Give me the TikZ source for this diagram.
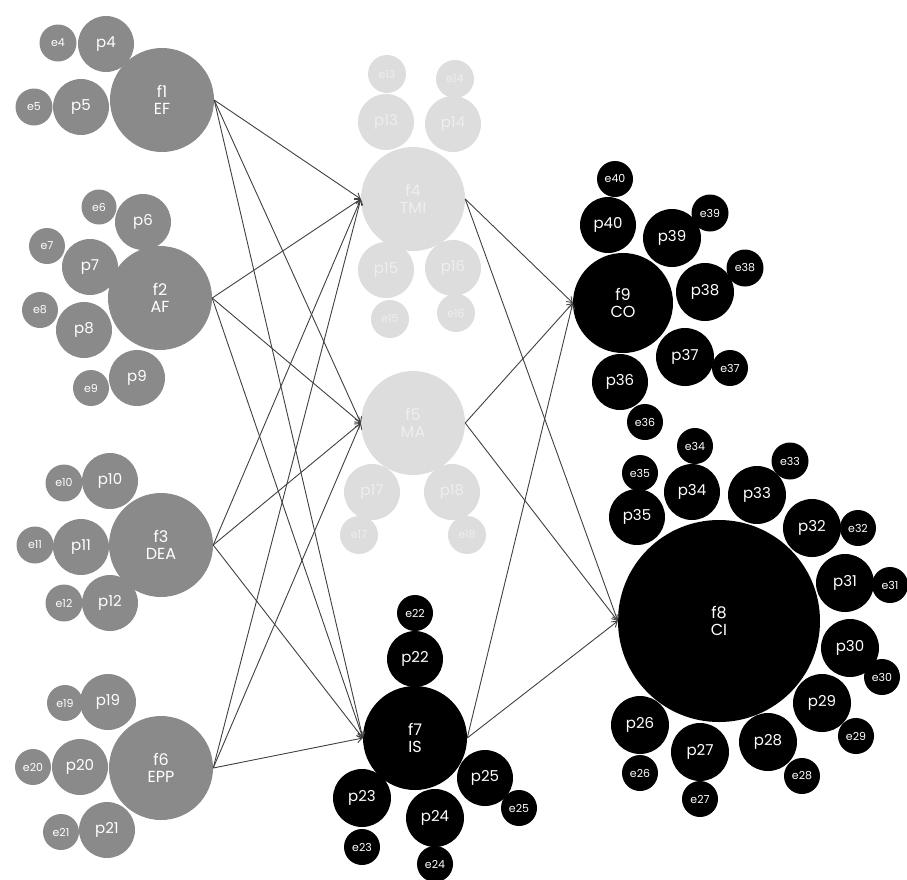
\documentclass[tikz,border=0pt]{standalone}
\usepackage{fontspec}
\setmainfont{Poppins}
\usetikzlibrary{arrows.meta}
\definecolor{gcol}{HTML}{8A8A8A}
\definecolor{lcol}{HTML}{DDDDDD}
\definecolor{ltxt}{HTML}{EEEEEE}
\definecolor{lncol}{HTML}{404040}
\tikzset{
  bub/.style={circle, inner sep=0pt, minimum size=#1, text=white, align=center},
  bigf/.style={bub=#1, font=\fontsize{16}{17}\selectfont},
  pn/.style={bub=#1, font=\fontsize{15}{16}\selectfont},
  en/.style={bub=#1, font=\fontsize{11}{12}\selectfont},
  gray/.style={fill=gcol},
  light/.style={fill=lcol, text=ltxt},
  blk/.style={fill=black},
  link/.style={draw=lncol, line width=0.9pt, -{Straight Barb[length=5pt,width=7pt]}}
}
\begin{document}
\begin{tikzpicture}[x=1pt,y=-1pt]
\useasboundingbox (0,0) rectangle (907,879);
% ---- f1 EF
\node[en=37,gray] (e4) at (58,43) {e4};
\node[pn=56,gray] (p4) at (106,44) {p4};
\node[en=37,gray] (e5) at (34,107) {e5};
\node[pn=56,gray] (p5) at (81,107) {p5};
\node[bigf=104,gray] (f1) at (162,100) {f1\\EF};
% ---- f2 AF
\node[en=35,gray] (e6) at (99,207) {e6};
\node[pn=56,gray] (p6) at (143,222) {p6};
\node[en=36,gray] (e7) at (47,246) {e7};
\node[pn=56,gray] (p7) at (90,267) {p7};
\node[en=36,gray] (e8) at (40,310) {e8};
\node[pn=56,gray] (p8) at (84,330) {p8};
\node[bigf=104,gray] (f2) at (160,298) {f2\\AF};
\node[en=36,gray] (e9) at (91,388) {e9};
\node[pn=56,gray] (p9) at (137,378) {p9};
% ---- f3 DEA
\node[en=37,gray] (e10) at (64,483) {e10};
\node[pn=56,gray] (p10) at (110,481) {p10};
\node[en=37,gray] (e11) at (35,545) {e11};
\node[pn=56,gray] (p11) at (81,547) {p11};
\node[bigf=104,gray] (f3) at (161,545) {f3\\DEA};
\node[en=37,gray] (e12) at (64,603) {e12};
\node[pn=56,gray] (p12) at (110,603) {p12};
% ---- f6 EPP
\node[en=36,gray] (e19) at (65,703) {e19};
\node[pn=56,gray] (p19) at (108,702) {p19};
\node[en=36,gray] (e20) at (33,767) {e20};
\node[pn=56,gray] (p20) at (80,767) {p20};
\node[bigf=104,gray] (f6) at (161,768) {f6\\EPP};
\node[en=36,gray] (e21) at (61,832) {e21};
\node[pn=56,gray] (p21) at (107,830) {p21};
% ---- f4 TMI (light)
\node[en=38,light] (e13) at (387,74) {e13};
\node[en=38,light] (e14) at (455,79) {e14};
\node[pn=56,light] (p13) at (386,122) {p13};
\node[pn=56,light] (p14) at (453,124) {p14};
\node[pn=56,light] (p15) at (386,270) {p15};
\node[pn=56,light] (p16) at (453,268) {p16};
\node[en=38,light] (e15) at (390,319) {e15};
\node[en=38,light] (e16) at (456,313) {e16};
\node[bigf=104,light] (f4) at (413,199) {f4\\TMI};
% ---- f5 (light)
\node[pn=56,light] (p17) at (372,492) {p17};
\node[pn=56,light] (p18) at (452,492) {p18};
\node[en=38,light] (e17) at (359,535) {e17};
\node[en=38,light] (e18) at (467,535) {e18};
\node[bigf=104,light] (f5) at (413,423) {f5\\MA};
% ---- f7 IS
\node[en=36,blk] (e22) at (415,613) {e22};
\node[pn=56,blk] (p22) at (415,659) {p22};
\node[pn=58,blk] (p23) at (362,798) {p23};
\node[en=36,blk] (e23) at (362,847) {e23};
\node[pn=58,blk] (p24) at (435,818) {p24};
\node[en=36,blk] (e24) at (435,864) {e24};
\node[pn=56,blk] (p25) at (485,778) {p25};
\node[en=36,blk] (e25) at (519,808) {e25};
\node[bigf=104,blk] (f7) at (415,738) {f7\\IS};
% ---- f9 CO
\node[en=36,blk] (e40) at (615,179) {e40};
\node[pn=56,blk] (p40) at (608,225) {p40};
\node[pn=58,blk] (p39) at (672,238) {p39};
\node[en=37,blk] (e39) at (710,213) {e39};
\node[pn=58,blk] (p38) at (705,292) {p38};
\node[en=37,blk] (e38) at (745,268) {e38};
\node[pn=58,blk] (p37) at (685,357) {p37};
\node[en=36,blk] (e37) at (730,368) {e37};
\node[pn=56,blk] (p36) at (620,382) {p36};
\node[en=36,blk] (e36) at (645,422) {e36};
\node[bigf=100,blk] (f9) at (623,303) {f9\\CO};
% ---- f8 CI
\node[en=36,blk] (e35) at (640,473) {e35};
\node[pn=56,blk] (p35) at (637,517) {p35};
\node[en=36,blk] (e34) at (695,446) {e34};
\node[pn=56,blk] (p34) at (692,492) {p34};
\node[en=37,blk] (e33) at (790,461) {e33};
\node[pn=58,blk] (p33) at (757,495) {p33};
\node[pn=58,blk] (p32) at (812,528) {p32};
\node[en=36,blk] (e32) at (858,528) {e32};
\node[pn=58,blk] (p31) at (845,583) {p31};
\node[en=36,blk] (e31) at (890,585) {e31};
\node[pn=58,blk] (p30) at (850,648) {p30};
\node[en=36,blk] (e30) at (882,677) {e30};
\node[pn=58,blk] (p29) at (822,703) {p29};
\node[en=36,blk] (e29) at (856,736) {e29};
\node[pn=58,blk] (p28) at (768,742) {p28};
\node[en=36,blk] (e28) at (802,776) {e28};
\node[pn=58,blk] (p27) at (700,752) {p27};
\node[en=36,blk] (e27) at (700,799) {e27};
\node[pn=58,blk] (p26) at (640,725) {p26};
\node[en=36,blk] (e26) at (640,773) {e26};
\node[bigf=202,blk] (f8) at (719,621) {f8\\CI};
% ---- connectors
\foreach \s in {f1,f2,f3,f6}{
  \foreach \t in {f4,f5,f7}{
    \draw[link] (\s.east) -- (\t.west);
  }
}
\foreach \s in {f4,f5,f7}{
  \foreach \t in {f9,f8}{
    \draw[link] (\s.east) -- (\t.west);
  }
}
\end{tikzpicture}
\end{document}
